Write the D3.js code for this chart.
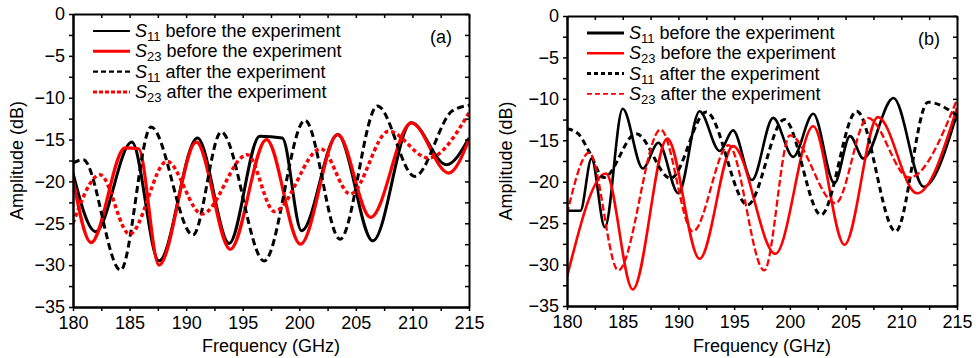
<!DOCTYPE html>
<html>
<head>
<meta charset="utf-8">
<script src="https://cdn.jsdelivr.net/npm/d3@7"></script>
<style>
body { margin: 0; background: #fff; }
</style>
</head>
<body>
<script>
// values: [frequency GHz, amplitude dB]
const aS11Before = [[180,-19],[182,-26],[185.2,-15.3],[187.6,-29.5],[191,-14.8],[193.8,-27.4],[196.5,-14.6],[198.5,-14.8],[200.2,-25.9],[203.4,-14.4],[206.5,-27.1],[209.9,-13],[213,-18],[215,-14.8]];
const aS23Before = [[180,-19.7],[181.6,-27.3],[184.6,-16],[185.8,-16.1],[187.6,-30],[190.9,-15.3],[193.9,-28.1],[197.1,-15],[200.1,-27.5],[203.4,-14.4],[206.3,-24.3],[209.9,-13],[213.2,-19],[215,-15]];
const aS11After = [[180,-17.8],[180.9,-17.4],[184.2,-30.6],[186.9,-13.5],[190.6,-26.4],[193.1,-14.1],[196.9,-29.5],[200.5,-12.7],[203.6,-26.9],[206.9,-11],[210.2,-19.4],[213.5,-11.6],[215,-10.9]];
const aS23After = [[180,-25],[182.4,-19.2],[185,-26.3],[188.3,-17.6],[191.4,-23.9],[195.4,-16.8],[197.8,-23.6],[201.9,-16.1],[204.5,-21.5],[207.9,-14],[211.4,-17.2],[215,-11.8]];

const bS11Before = [[180,-23.5],[181.2,-23.5],[182.2,-17.2],[183.4,-25.5],[185,-11.2],[186.8,-18.4],[188.2,-15.3],[190,-21.4],[191.9,-11.5],[193.7,-16.3],[194.9,-13.8],[196.6,-19.8],[198.5,-12.3],[200.3,-17],[202.1,-11.8],[204,-20.2],[205.4,-14.5],[206.6,-17.2],[209.3,-9.9],[212,-20.6],[215,-11.8]];
const bS23Before = [[180,-31.5],[183.5,-19],[185.9,-33],[189,-14.8],[191.9,-29.3],[194.9,-15.7],[198.7,-28.7],[202.1,-13.3],[204.9,-27.6],[207.9,-12.2],[211.4,-21.4],[215,-11.1]];
const bS11After = [[180,-13.6],[181,-14.2],[182,-16.4],[183.3,-19.5],[186.2,-14.2],[189.3,-19.6],[192.5,-11.6],[196.2,-22.8],[199.5,-12.5],[202.8,-24],[206,-11.5],[209.5,-26],[212.4,-10.4],[215,-12]];
const bS23After = [[180,-23.9],[182,-16.5],[184.6,-30.7],[188.4,-13.7],[191.3,-26],[194.5,-15.6],[197.7,-30.7],[200,-14.4],[204.1,-22.6],[207,-12.3],[210.7,-19.5],[215,-10.1]];

const freqTicks = [180, 185, 190, 195, 200, 205, 210, 215];
const freqMinor = [182.5, 187.5, 192.5, 197.5, 202.5, 207.5, 212.5];
const ampTicks = [0, -5, -10, -15, -20, -25, -30, -35];
const ampMinor = [-2.5, -7.5, -12.5, -17.5, -22.5, -27.5, -32.5];
const legendNames = [['11', ' before the experiment'], ['23', ' before the experiment'], ['11', ' after the experiment'], ['23', ' after the experiment']];

const font = '"Liberation Sans", Arial, sans-serif';
const fs = 18;

const svg = d3.select('body').append('svg')
    .attr('width', 976)
    .attr('height', 358)
    .style('font-family', font);

function drawPanel(p) {
    const x = d3.scaleLinear().domain([180, 215]).range([p.left, p.right]);
    const y = d3.scaleLinear().domain([-35, 0]).range([p.bottom, p.top]);
    const g = svg.append('g');

    const clipId = 'clip-' + p.tag;
    g.append('clipPath').attr('id', clipId).append('rect')
        .attr('x', p.left).attr('y', p.top)
        .attr('width', p.right - p.left).attr('height', p.bottom - p.top);

    const line = d3.line()
        .x(d => x(d[0]))
        .y(d => y(d[1]))
        .curve(d3.curveMonotoneX);

    const curves = g.append('g').attr('clip-path', 'url(#' + clipId + ')');
    p.series.forEach(s => {
        curves.append('path')
            .datum(s.data)
            .attr('fill', 'none')
            .attr('stroke', s.color)
            .attr('stroke-width', s.width)
            .attr('stroke-dasharray', s.dash)
            .attr('stroke-linejoin', 'round')
            .attr('d', line);
    });

    // axes: labels on left/bottom, outward ticks; mirrored inward ticks on top/right
    const styleAxis = sel => {
        sel.select('.domain').attr('stroke-width', 2);
        sel.selectAll('.tick line').attr('stroke-width', 1.5);
        sel.selectAll('text').attr('font-size', fs).attr('font-family', font).attr('fill', '#000');
    };

    g.append('g').attr('transform', `translate(0,${p.bottom})`)
        .call(d3.axisBottom(x).tickValues(freqTicks).tickSize(4).tickSizeOuter(0).tickPadding(5))
        .call(styleAxis);
    g.append('g').attr('transform', `translate(0,${p.bottom})`)
        .call(d3.axisBottom(x).tickValues(freqMinor).tickSize(4).tickSizeOuter(0).tickFormat(''))
        .call(styleAxis);
    g.append('g').attr('transform', `translate(0,${p.top})`)
        .call(d3.axisTop(x).tickValues(freqTicks.concat(freqMinor)).tickSize(-4).tickSizeOuter(0).tickFormat(''))
        .call(styleAxis);

    g.append('g').attr('transform', `translate(${p.left},0)`)
        .call(d3.axisLeft(y).tickValues(ampTicks).tickSize(4).tickSizeOuter(0).tickPadding(4).tickFormat(d3.format('d')))
        .call(styleAxis);
    g.append('g').attr('transform', `translate(${p.left},0)`)
        .call(d3.axisLeft(y).tickValues(ampMinor).tickSize(4).tickSizeOuter(0).tickFormat(''))
        .call(styleAxis);
    g.append('g').attr('transform', `translate(${p.right},0)`)
        .call(d3.axisRight(y).tickValues(ampTicks.concat(ampMinor)).tickSize(-4).tickSizeOuter(0).tickFormat(''))
        .call(styleAxis);

    // axis titles
    g.append('text')
        .attr('x', (p.left + p.right) / 2).attr('y', 352)
        .attr('text-anchor', 'middle').attr('font-size', fs)
        .text('Frequency (GHz)');
    g.append('text')
        .attr('transform', `translate(${p.ylabelX},${(p.top + p.bottom) / 2}) rotate(-90)`)
        .attr('text-anchor', 'middle').attr('font-size', fs)
        .text('Amplitude (dB)');

    g.append('text')
        .attr('x', p.right - 17).attr('y', p.top + 29)
        .attr('text-anchor', 'end').attr('font-size', fs)
        .text('(' + p.tag + ')');

    // legend
    const leg = g.append('g');
    p.series.forEach((s, i) => {
        const ly = p.legendY + i * 20.3;
        leg.append('line')
            .attr('x1', p.left + 20).attr('x2', p.left + 57)
            .attr('y1', ly).attr('y2', ly)
            .attr('stroke', s.color)
            .attr('stroke-width', s.legWidth)
            .attr('stroke-dasharray', s.legDash);
        const t = leg.append('text')
            .attr('x', p.left + 62).attr('y', ly + 6)
            .attr('font-size', fs);
        t.append('tspan').attr('font-style', 'italic').text('S');
        t.append('tspan').attr('font-size', 13).attr('dy', 4).text(legendNames[i][0]);
        t.append('tspan').attr('dy', -4).text(legendNames[i][1]);
    });
}

drawPanel({
    tag: 'a', left: 73, right: 469, top: 14, bottom: 307, ylabelX: 23, legendY: 31,
    series: [
        {data: aS11Before, color: '#000', width: 3, dash: null, legWidth: 2.2, legDash: null},
        {data: aS23Before, color: '#f00', width: 3.2, dash: null, legWidth: 3, legDash: null},
        {data: aS11After, color: '#000', width: 3, dash: '7,4', legWidth: 2.2, legDash: '5,3'},
        {data: aS23After, color: '#f00', width: 3.5, dash: '4,3', legWidth: 3, legDash: '4,2'}
    ]
});

drawPanel({
    tag: 'b', left: 567, right: 957, top: 16, bottom: 306, ylabelX: 512, legendY: 33,
    series: [
        {data: bS11Before, color: '#000', width: 2.6, dash: null, legWidth: 3, legDash: null},
        {data: bS23Before, color: '#f00', width: 2.6, dash: null, legWidth: 2.6, legDash: null},
        {data: bS11After, color: '#000', width: 3, dash: '6,4', legWidth: 3, legDash: '4,3'},
        {data: bS23After, color: '#f00', width: 2.3, dash: '7,3', legWidth: 1.8, legDash: '5,3'}
    ]
});
</script>
</body>
</html>
